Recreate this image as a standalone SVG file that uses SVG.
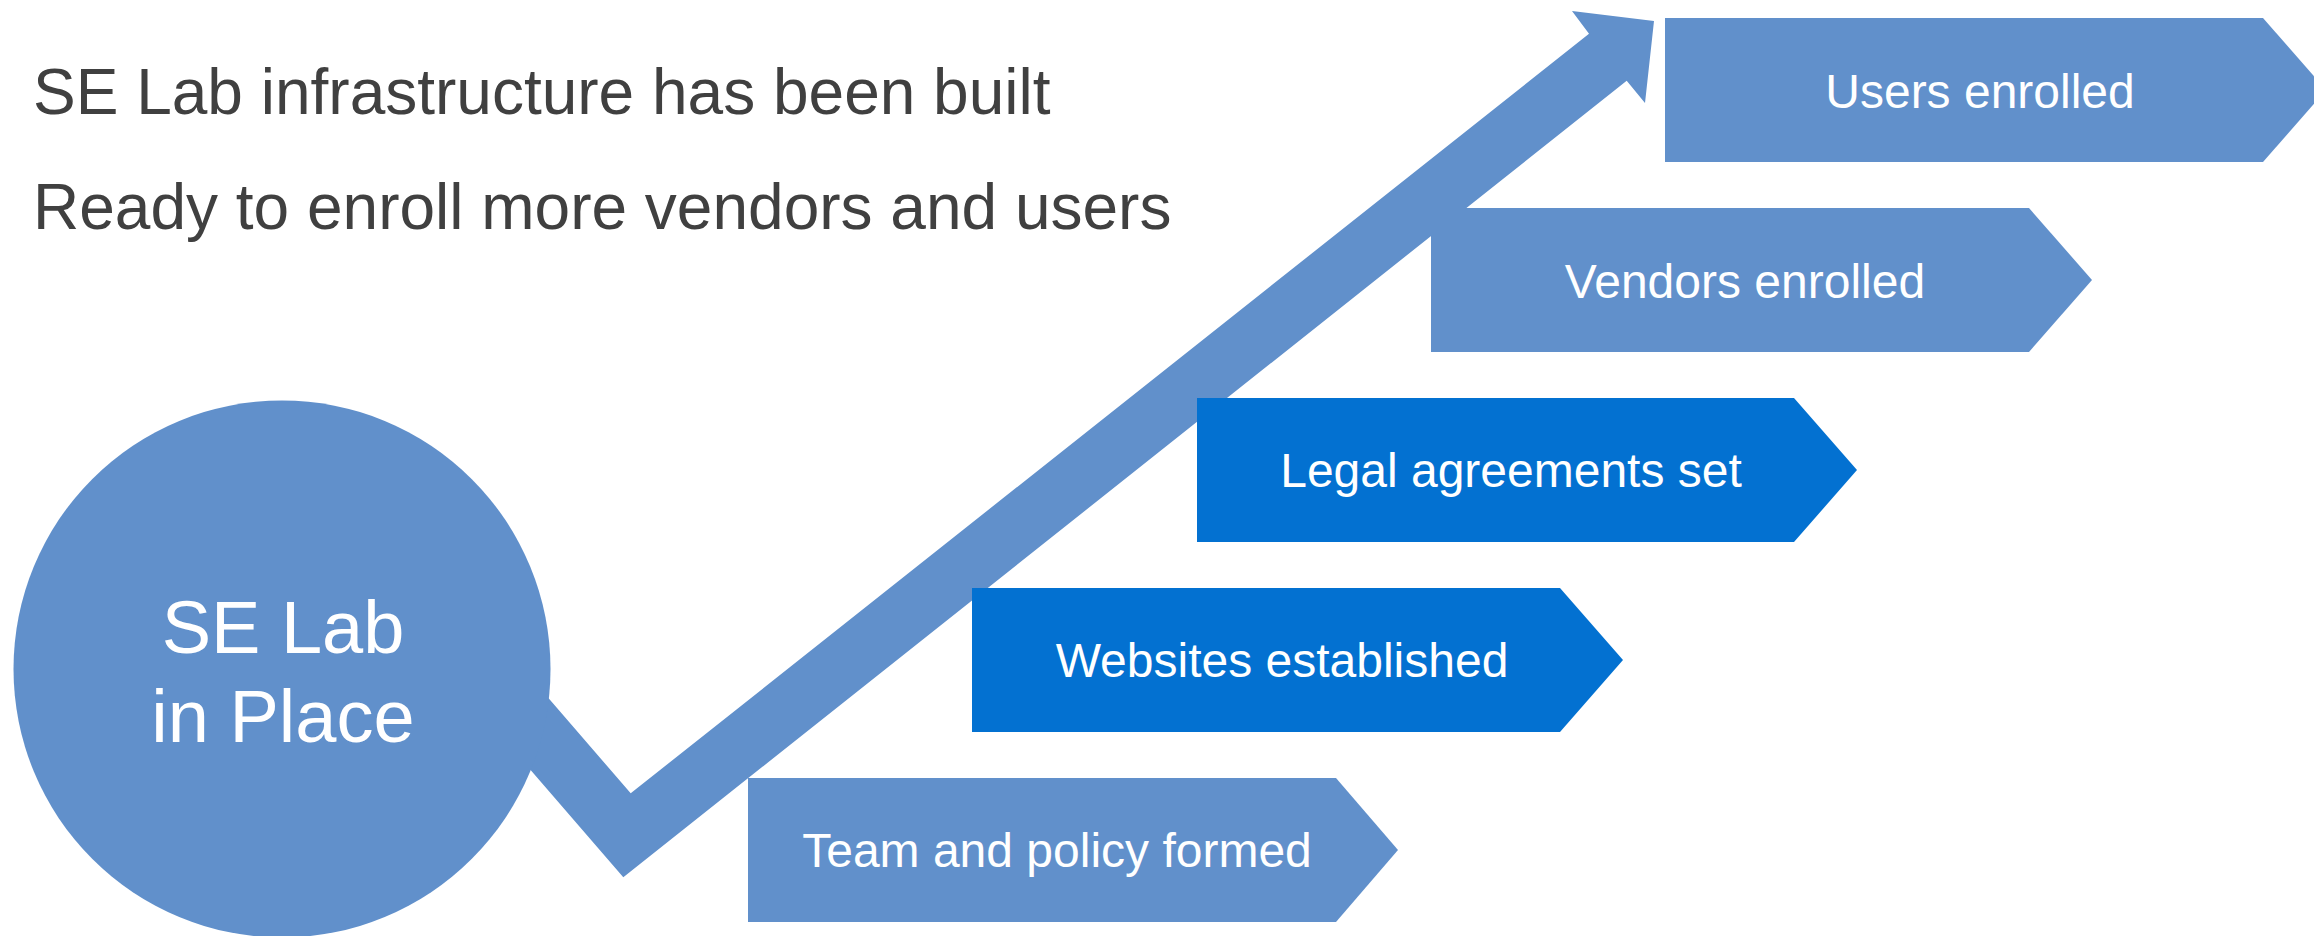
<svg xmlns="http://www.w3.org/2000/svg" width="2314" height="936" viewBox="0 0 2314 936">
<style>
.light{fill:#6190CB;}
.dark{fill:#0371D1;}
.lbl{font-family:"Liberation Sans",Arial,sans-serif;font-size:48px;fill:#FFFFFF;text-anchor:middle;}
.big{font-family:"Liberation Sans",Arial,sans-serif;font-size:74px;fill:#FFFFFF;text-anchor:middle;}
.head{font-family:"Liberation Sans",Arial,sans-serif;font-size:64px;fill:#404040;}
</style>
<rect width="2314" height="936" fill="#FFFFFF"/>
<g id="heading">
<text class="head" x="33" y="114">SE Lab infrastructure has been built</text>
<text class="head" x="33" y="229">Ready to enroll more vendors and users</text>
</g>
<g id="connectors">
<polygon class="light" points="450,584 630.7,793.3 1589,33.7 1572,11 1654,21 1645,103 1626.7,80.7 623.3,877.3 420,642"/>
</g>
<g id="se-lab">
<circle class="light" cx="282" cy="669" r="268.5"/>
<text class="big" x="283" y="653">SE Lab</text>
<text class="big" x="283" y="742">in Place</text>
</g>
<g id="team">
<polygon class="light" points="748,778 1336,778 1398,850 1336,922 748,922"/>
<text class="lbl" x="1057" y="867">Team and policy formed</text>
</g>
<g id="websites">
<polygon class="dark" points="972,588 1560,588 1623,660 1560,732 972,732"/>
<text class="lbl" x="1282" y="677">Websites established</text>
</g>
<g id="legal">
<polygon class="dark" points="1197,398 1794,398 1857,470 1794,542 1197,542"/>
<text class="lbl" x="1511" y="487">Legal agreements set</text>
</g>
<g id="vendors">
<polygon class="light" points="1431,208 2029,208 2092,280 2029,352 1431,352"/>
<text class="lbl" x="1745" y="298">Vendors enrolled</text>
</g>
<g id="users">
<polygon class="light" points="1665,18 2263,18 2326,90 2263,162 1665,162"/>
<text class="lbl" x="1980" y="108">Users enrolled</text>
</g>
</svg>
